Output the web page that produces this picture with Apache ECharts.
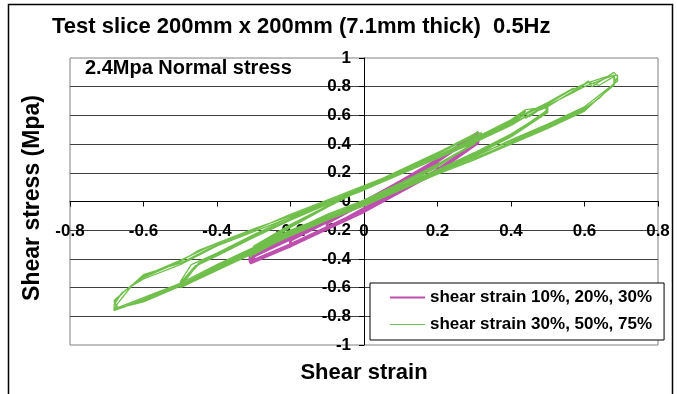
<!DOCTYPE html>
<html>
<head>
<meta charset="utf-8">
<script src="https://cdn.jsdelivr.net/npm/echarts@6/dist/echarts.min.js"></script>
<style>html,body{margin:0;padding:0;background:#fff;}#c{width:677px;height:394px;}</style>
</head>
<body>
<div id="c"></div>
<script>
// ---- data ----
const seriesNames = ['shear strain 10%, 20%, 30%', 'shear strain 30%, 50%, 75%'];
const xTicks = [-0.8, -0.6, -0.4, -0.2, 0, 0.2, 0.4, 0.6, 0.8];
const yTicks = [-1, -0.8, -0.6, -0.4, -0.2, 0, 0.2, 0.4, 0.6, 0.8, 1];

const purple10 = [[0,-0.02],[0.05,0.05],[0.1,0.12],[0.1,0.09],[0.05,0.02],[0,-0.05],[-0.05,-0.12],[-0.1,-0.18],[-0.1,-0.15],[-0.05,-0.08],[0,-0.01],[0.05,0.06],[0.1,0.13],[0.1,0.09],[0.05,0.02],[0,-0.06],[-0.05,-0.12],[-0.1,-0.19],[-0.1,-0.15],[-0.05,-0.07],[0,-0.01]];
const purple20 = [[0.1,0.13],[0.2,0.27],[0.2,0.22],[0.1,0.07],[0,-0.06],[-0.1,-0.18],[-0.2,-0.31],[-0.2,-0.27],[-0.1,-0.14],[0,-0.01],[0.1,0.13],[0.2,0.28],[0.2,0.22],[0.1,0.07],[0,-0.05],[-0.1,-0.19],[-0.2,-0.31],[-0.2,-0.27],[-0.1,-0.13],[0,-0.01]];
const purple30 = [[0.1,0.13],[0.2,0.28],[0.31,0.47],[0.31,0.42],[0.2,0.22],[0.1,0.07],[0,-0.06],[-0.1,-0.19],[-0.2,-0.31],[-0.31,-0.42],[-0.31,-0.38],[-0.2,-0.26],[-0.1,-0.14],[0,-0.01],[0.1,0.13],[0.2,0.29],[0.31,0.48],[0.31,0.41],[0.2,0.21],[0.1,0.07],[0,-0.07],[-0.1,-0.19],[-0.2,-0.31],[-0.31,-0.43],[-0.3,-0.38],[-0.2,-0.26],[-0.1,-0.13],[0,0.0],[0.1,0.14],[0.2,0.29],[0.31,0.46],[0.31,0.41],[0.2,0.22],[0.1,0.08],[0,-0.06],[-0.1,-0.18],[-0.2,-0.30],[-0.3,-0.41],[-0.3,-0.37],[-0.2,-0.25],[-0.1,-0.13],[0,0.0]];

const green30 = [[0,0.09],[0.1,0.21],[0.2,0.33],[0.3,0.46],[0.31,0.49],[0.31,0.44],[0.3,0.40],[0.2,0.25],[0.1,0.12],[0,0.0],[-0.1,-0.10],[-0.2,-0.22],[-0.3,-0.36],[-0.31,-0.39],[-0.3,-0.33],[-0.2,-0.18],[-0.1,-0.04],[0,0.09],[0.1,0.21],[0.2,0.34],[0.3,0.47],[0.31,0.48],[0.31,0.43],[0.2,0.24],[0.1,0.11],[0,-0.01],[-0.1,-0.11],[-0.2,-0.23],[-0.3,-0.37],[-0.3,-0.32],[-0.2,-0.17],[-0.1,-0.03],[0,0.10],[0.1,0.22],[0.2,0.34],[0.3,0.45],[0.32,0.48],[0.31,0.42],[0.2,0.26],[0.1,0.13],[0,0.01],[-0.1,-0.09],[-0.2,-0.21],[-0.3,-0.35],[-0.31,-0.38],[-0.3,-0.31],[-0.2,-0.16],[-0.1,-0.03],[0,0.11]];
const green50 = [[0.1,0.21],[0.2,0.31],[0.3,0.42],[0.4,0.56],[0.44,0.63],[0.43,0.60],[0.5,0.69],[0.5,0.64],[0.45,0.55],[0.4,0.47],[0.3,0.34],[0.2,0.22],[0.1,0.10],[0,-0.01],[-0.1,-0.11],[-0.2,-0.22],[-0.3,-0.34],[-0.4,-0.46],[-0.5,-0.60],[-0.5,-0.57],[-0.46,-0.45],[-0.4,-0.37],[-0.3,-0.24],[-0.2,-0.12],[-0.1,-0.01],[0,0.09],[0.1,0.20],[0.2,0.31],[0.3,0.42],[0.4,0.55],[0.45,0.63],[0.49,0.67],[0.5,0.63],[0.45,0.54],[0.4,0.46],[0.3,0.33],[0.2,0.21],[0.1,0.09],[0,-0.02],[-0.1,-0.12],[-0.2,-0.23],[-0.3,-0.35],[-0.4,-0.47],[-0.49,-0.59],[-0.5,-0.56],[-0.47,-0.44],[-0.4,-0.36],[-0.3,-0.23],[-0.2,-0.11],[-0.1,0.0],[0,0.10],[0.1,0.19],[0.2,0.30],[0.3,0.41],[0.4,0.54],[0.44,0.61],[0.45,0.59],[0.5,0.68],[0.5,0.62],[0.4,0.45],[0.3,0.32],[0.2,0.20],[0.1,0.08],[0,-0.03],[-0.1,-0.13],[-0.2,-0.24],[-0.3,-0.36],[-0.4,-0.48],[-0.5,-0.60],[-0.49,-0.55],[-0.45,-0.44],[-0.4,-0.38],[-0.3,-0.25],[-0.2,-0.13],[-0.1,-0.02],[0,0.08],[0.1,0.19],[0.2,0.30],[0.3,0.41],[0.4,0.53],[0.46,0.62],[0.5,0.66],[0.49,0.61],[0.4,0.46],[0.3,0.33],[0.2,0.21],[0.1,0.10],[0,-0.01],[-0.1,-0.11],[-0.2,-0.22],[-0.3,-0.34],[-0.4,-0.46],[-0.5,-0.59],[-0.48,-0.53],[-0.45,-0.43],[-0.3,-0.24],[-0.2,-0.12],[-0.1,-0.01],[0,0.09]];
const green75 = [[0.1,0.20],[0.2,0.31],[0.3,0.43],[0.43,0.61],[0.44,0.58],[0.5,0.69],[0.57,0.79],[0.57,0.76],[0.61,0.84],[0.62,0.80],[0.68,0.90],[0.69,0.87],[0.68,0.81],[0.6,0.64],[0.5,0.52],[0.4,0.41],[0.3,0.30],[0.2,0.20],[0.1,0.09],[0,-0.02],[-0.1,-0.12],[-0.2,-0.22],[-0.3,-0.33],[-0.4,-0.45],[-0.5,-0.58],[-0.6,-0.68],[-0.68,-0.76],[-0.68,-0.72],[-0.66,-0.64],[-0.6,-0.53],[-0.5,-0.42],[-0.45,-0.34],[-0.3,-0.19],[-0.2,-0.10],[-0.1,0.0],[0,0.10],[0.1,0.20],[0.2,0.31],[0.3,0.43],[0.4,0.56],[0.5,0.68],[0.56,0.77],[0.6,0.82],[0.66,0.87],[0.69,0.88],[0.69,0.84],[0.67,0.80],[0.6,0.66],[0.5,0.54],[0.4,0.43],[0.3,0.31],[0.2,0.21],[0.1,0.10],[0,-0.01],[-0.1,-0.11],[-0.2,-0.21],[-0.3,-0.33],[-0.4,-0.45],[-0.5,-0.58],[-0.6,-0.69],[-0.67,-0.75],[-0.68,-0.70],[-0.65,-0.62],[-0.6,-0.52],[-0.5,-0.41],[-0.4,-0.29],[-0.3,-0.19],[-0.2,-0.10],[-0.1,0.0],[0,0.10],[0.1,0.20],[0.2,0.31],[0.3,0.42],[0.4,0.54],[0.5,0.67],[0.6,0.80],[0.68,0.88],[0.685,0.83],[0.6,0.63],[0.5,0.51],[0.4,0.40],[0.3,0.29],[0.2,0.19],[0.1,0.08],[0,-0.03],[-0.1,-0.13],[-0.2,-0.23],[-0.3,-0.34],[-0.4,-0.46],[-0.5,-0.59],[-0.6,-0.70],[-0.68,-0.75],[-0.67,-0.71],[-0.63,-0.58],[-0.6,-0.51],[-0.5,-0.43],[-0.4,-0.30],[-0.3,-0.20],[-0.2,-0.09],[-0.1,0.01],[0,0.11],[0.1,0.21],[0.2,0.32],[0.3,0.44],[0.4,0.57],[0.44,0.64],[0.5,0.66],[0.55,0.74],[0.61,0.83],[0.64,0.81],[0.68,0.87],[0.68,0.82],[0.64,0.72],[0.6,0.65],[0.5,0.53],[0.4,0.42],[0.3,0.32],[0.2,0.22],[0.1,0.11],[0,0.0],[-0.1,-0.10],[-0.2,-0.20],[-0.3,-0.32],[-0.4,-0.44],[-0.5,-0.57],[-0.6,-0.67],[-0.67,-0.74],[-0.68,-0.69],[-0.64,-0.60],[-0.6,-0.54],[-0.5,-0.44],[-0.4,-0.31],[-0.3,-0.21],[-0.2,-0.11],[-0.1,-0.01],[0,0.09]];

// ---- chart ----
const FONT = '"Liberation Sans", Arial, sans-serif';
const PURPLE = '#BF4FAF';
const GREEN = '#6FBF4A';
const GRID = {left: 70, right: 19, top: 58, bottom: 49};
const W = 677, H = 394;
const gridW = W - GRID.left - GRID.right;
const gridH = H - GRID.top - GRID.bottom;
const chart = echarts.init(document.getElementById('c'), null, {renderer: 'canvas'});

const labelStyle = {fontFamily: FONT, fontSize: 17, fontWeight: 'bold', color: '#000'};

chart.setOption({
  animation: false,
  backgroundColor: '#fff',
  grid: Object.assign({show: true, backgroundColor: '#fff', borderColor: '#808080', borderWidth: 1}, GRID),
  xAxis: {
    type: 'value', position: 'bottom', offset: -gridH / 2,
    min: xTicks[0], max: xTicks[xTicks.length - 1], interval: 0.2, z: 3,
    axisLine: {onZero: false, lineStyle: {color: '#000', width: 1}},
    axisTick: {show: true, length: 5, lineStyle: {color: '#000'}},
    axisLabel: Object.assign({margin: 21, interval: 0, showMinLabel: true, showMaxLabel: true, hideOverlap: false}, labelStyle),
    splitLine: {show: false}
  },
  yAxis: [{
    type: 'value', position: 'left', offset: -gridW / 2,
    min: yTicks[0], max: yTicks[yTicks.length - 1], interval: 0.2, z: 3,
    axisLine: {onZero: false, lineStyle: {color: '#000', width: 1}},
    axisTick: {show: true, length: 5, lineStyle: {color: '#000'}},
    axisLabel: Object.assign({margin: 13, interval: 0, showMinLabel: true, showMaxLabel: true, hideOverlap: false}, labelStyle),
    splitLine: {show: false}
  }, {
    type: 'value', min: yTicks[0], max: yTicks[yTicks.length - 1], interval: 0.2, z: 0,
    position: 'right',
    axisLine: {show: false, onZero: false}, axisTick: {show: false}, axisLabel: {show: false},
    splitLine: {show: true, showMinLine: false, showMaxLine: false, lineStyle: {color: '#404040', width: 1}}
  }],
  legend: {
    orient: 'vertical', left: 370, top: 283,
    backgroundColor: '#fff', borderColor: '#000', borderWidth: 1,
    padding: [6, 12, 7, 20], itemGap: 10, itemWidth: 35, itemHeight: 16,
    textStyle: {fontFamily: FONT, fontSize: 17, fontWeight: 'bold', color: '#000', lineHeight: 16},
    data: [
      {name: seriesNames[0], icon: 'path://M0,7H35V9H0Z', itemStyle: {color: PURPLE}},
      {name: seriesNames[1], icon: 'path://M0,7.5H35V8.5H0Z', itemStyle: {color: GREEN}}
    ]
  },
  series: [{
    name: seriesNames[0], type: 'line', symbol: 'none', yAxisIndex: 0,
    data: purple10.concat(purple20, purple30),
    lineStyle: {color: PURPLE, width: 3}, itemStyle: {color: PURPLE}
  }, {
    name: seriesNames[1], type: 'line', symbol: 'none', yAxisIndex: 0,
    data: green30.concat(green50, green75),
    lineStyle: {color: GREEN, width: 1.3}, itemStyle: {color: GREEN}
  }],
  graphic: [
    {type: 'rect', silent: true, z: -10, shape: {x: 8.5, y: 4.5, width: 664, height: 420}, style: {fill: 'none', stroke: '#000', lineWidth: 1.5}},
    {type: 'text', silent: true, x: 52, y: 27, style: {text: 'Test slice 200mm x 200mm (7.1mm thick)  0.5Hz', font: 'bold 22px ' + FONT, fill: '#000', verticalAlign: 'middle'}},
    {type: 'text', silent: true, z: 100, x: 85, y: 68, style: {text: '2.4Mpa Normal stress', font: 'bold 20px ' + FONT, fill: '#000', verticalAlign: 'middle'}},
    {type: 'text', silent: true, x: 33, y: 198, rotation: Math.PI / 2, style: {text: 'Shear stress (Mpa)', font: 'bold 23px ' + FONT, fill: '#000', align: 'center', verticalAlign: 'middle'}},
    {type: 'text', silent: true, x: 364, y: 373, style: {text: 'Shear strain', font: 'bold 22px ' + FONT, fill: '#000', align: 'center', verticalAlign: 'middle'}}
  ]
});
</script>
</body>
</html>
